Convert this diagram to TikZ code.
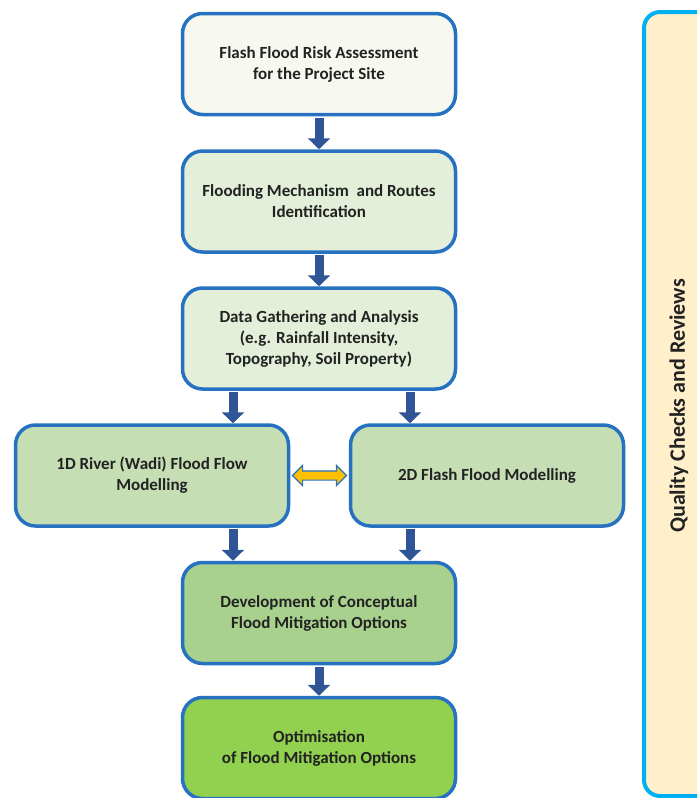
\documentclass[tikz,border=0pt]{standalone}
\usepackage{fontspec}
\setmainfont{Carlito}
\usetikzlibrary{arrows.meta,shapes.arrows,calc}
\definecolor{boxline}{HTML}{2672C0}
\definecolor{arrowblue}{HTML}{2F5597}
\definecolor{fillA}{HTML}{F7F9F1}
\definecolor{fillB}{HTML}{E3EFD9}
\definecolor{fillC}{HTML}{C6DEB4}
\definecolor{fillD}{HTML}{A9D18E}
\definecolor{fillE}{HTML}{92D050}
\definecolor{panelline}{HTML}{00B0F0}
\definecolor{panelfill}{HTML}{FFEFCB}
\definecolor{txt}{HTML}{222222}
\definecolor{dblarrow}{HTML}{FFC000}
\begin{document}
\begin{tikzpicture}[x=1pt,y=-1pt,
  stepbox/.style={draw=boxline, line width=3.5pt, rounded corners=20pt,
    minimum width=273pt, minimum height=101pt, align=center,
    font=\bfseries\fontsize{17}{21}\selectfont, text=txt, inner sep=0pt},
  flow/.style={draw=arrowblue, line width=9pt,
    -{Triangle[width=22pt,length=11pt]}, shorten <=1.5pt},
]
\useasboundingbox (0,0) rectangle (697,798);
\begin{scope}
\clip (0,0) rectangle (697,798);
\draw[draw=panelline, fill=panelfill, line width=4pt, rounded corners=16pt]
  (644,12) rectangle (720,796);
\end{scope}
\node[rotate=90, font=\bfseries\fontsize{22}{26}\selectfont, text=txt] (qc) at (679,406) {Quality Checks and Reviews};

\node[stepbox, fill=fillA] (b1) at (319,64) {Flash Flood Risk Assessment\\for the Project Site};
\node[stepbox, fill=fillB] (b2) at (319,201.5) {Flooding Mechanism\ \ and Routes\\Identification};
\node[stepbox, fill=fillB] (b3) at (319,338.5) {Data Gathering and Analysis\\(e.g. Rainfall Intensity,\\Topography, Soil Property)};
\node[stepbox, fill=fillC] (b4) at (152,475.5) {1D River (Wadi) Flood Flow\\Modelling};
\node[stepbox, fill=fillC] (b5) at (487,475.5) {2D Flash Flood Modelling};
\node[stepbox, fill=fillD] (b6) at (319,613) {Development of Conceptual\\Flood Mitigation Options};
\node[stepbox, fill=fillE] (b7) at (319,748) {Optimisation\\of Flood Mitigation Options};

\coordinate (xl) at (233,0);
\coordinate (xr) at (410,0);

\draw[flow] (b1.south) -- (b2.north);
\draw[flow] (b2.south) -- (b3.north);
\draw[flow] (b3.south -| xl) -- (b4.north -| xl);
\draw[flow] (b3.south -| xr) -- (b5.north -| xr);
\draw[flow] (b4.south -| xl) -- (b6.north -| xl);
\draw[flow] (b5.south -| xr) -- (b6.north -| xr);
\draw[flow] (b6.south) -- (b7.north);

\node[double arrow, draw=boxline, fill=dblarrow, line width=1.2pt,
  minimum height=54pt, minimum width=19pt, inner xsep=0pt, inner ysep=4pt,
  double arrow head extend=5.5pt, double arrow head indent=0pt]
  (dbl) at ($(b4.east)!0.5!(b5.west)$) {};
\end{tikzpicture}
\end{document}
